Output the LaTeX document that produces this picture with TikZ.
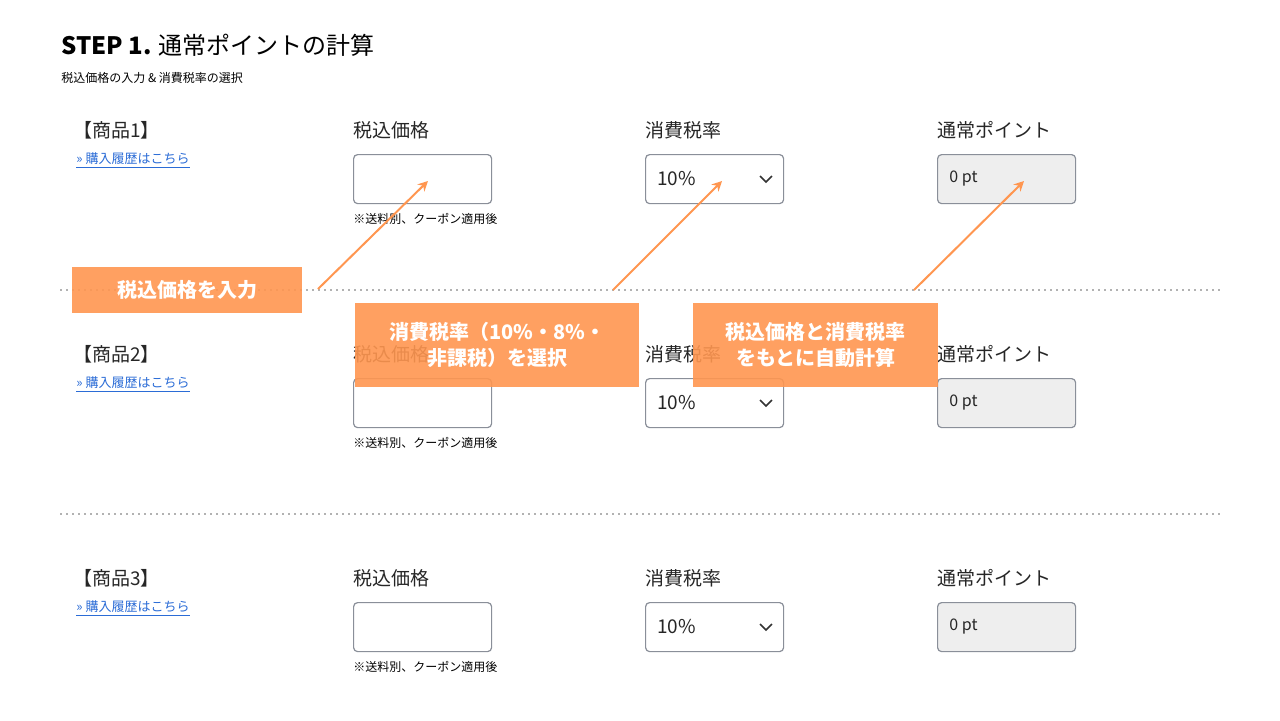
\documentclass[tikz,border=0pt]{standalone}
\usepackage{fontspec}
\setmainfont{Noto Sans CJK JP}
\usetikzlibrary{positioning, arrows.meta}
\definecolor{callout}{HTML}{FF9650}
\definecolor{linkblue}{HTML}{2B6CD6}
\definecolor{boxgray}{HTML}{8A8F99}
\definecolor{ptfill}{HTML}{EEEEEE}
\tikzset{
  label/.style={anchor=west, font=\fontsize{9.5}{11}\selectfont, text=black!85, inner sep=0pt},
  field/.style={draw=boxgray, line width=0.6pt, rounded corners=2pt, minimum width=69pt, minimum height=24.5pt, anchor=north west},
  note/.style={anchor=west, font=\fontsize{6}{7}\selectfont\itshape, inner sep=0pt},
  callbox/.style={fill=callout, fill opacity=0.9, text opacity=1, text=white, font=\bfseries\fontsize{10}{13}\selectfont, align=center, anchor=north west, inner sep=0pt},
  pointer/.style={draw=callout, line width=1pt, -{Stealth[length=5pt,width=5pt]}}
}
\begin{document}
\begin{tikzpicture}[x=0.5pt, y=-0.5pt]
        \useasboundingbox (0,0) rectangle (1280,720);
        \node[anchor=west, inner sep=0pt, font=\fontsize{12}{14}\selectfont] (title) at (61,45) {\textbf{STEP 1.} 通常ポイントの計算};
        \node[note, font=\fontsize{6}{7}\selectfont\itshape] (sub) at (61,78) {税込価格の入力 \& 消費税率の選択};

        \foreach \r/\n in {0/1,1/2,2/3} {
          \begin{scope}[yshift=-\r*112pt]
            \node[label] (item\n) at (73,130) {【商品\n】};
            \node[note, text=linkblue, font=\fontsize{6.5}{8}\selectfont\itshape] (link\n) at (76,161) {\underline{» 購入履歴はこちら}};
            \node[label] (pricelbl\n) at (353,130) {税込価格};
            \node[field, fill=white] (price\n) at (353,154) {};
            \node[note] (memo\n) at (353,219) {※送料別、クーポン適用後};
            \node[label] (taxlbl\n) at (645,130) {消費税率};
            \node[field, fill=white] (tax\n) at (645,154) {};
            \node[label] at (657,179) {10\%};
            \draw[black!80, line width=0.8pt] (760,176) -- (766,182) -- (772,176);
            \node[label] (ptlbl\n) at (937,130) {通常ポイント};
            \node[field, fill=ptfill] (pt\n) at (937,154) {};
            \node[label, font=\fontsize{8}{10}\selectfont] at (949,179) {0 pt};
          \end{scope}
        }

        \draw[black!30, line width=1pt, dotted] (60,290) -- (1220,290);
        \draw[black!30, line width=1pt, dotted] (60,514) -- (1220,514);

        % callouts
        \node[callbox, minimum width=115pt, minimum height=23pt] (input) at (72,267) {税込価格を入力};
        \node[callbox, minimum width=142pt, minimum height=42pt] (rate) at (355,303) {消費税率（10\%・8\%・\\非課税）を選択};
        \node[callbox, minimum width=122.5pt, minimum height=42pt] (auto) at (693,303) {税込価格と消費税率\\をもとに自動計算};

        \coordinate (s1) at (318,289);
        \coordinate (e1) at (428,181);
        \coordinate (s2) at (613,290);
        \coordinate (e2) at (722,181);
        \coordinate (s3) at (914,290);
        \coordinate (e3) at (1024,181);
        \draw[pointer] (s1) -- (e1);
        \draw[pointer] (s2) -- (e2);
        \draw[pointer] (s3) -- (e3);
\end{tikzpicture}
\end{document}
